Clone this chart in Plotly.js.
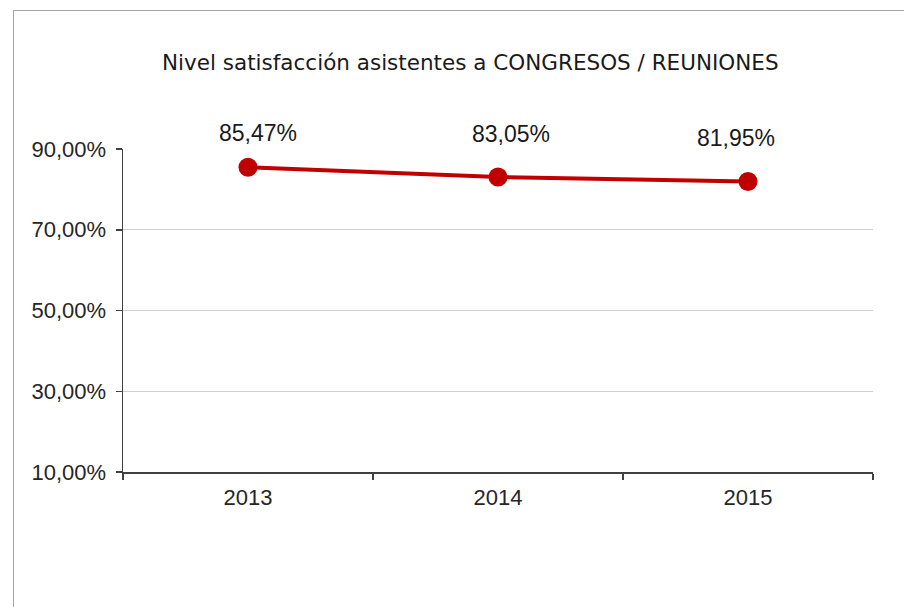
<!DOCTYPE html>
<html>
<head>
<meta charset="utf-8">
<script src="https://cdn.plot.ly/plotly-3.0.1.min.js"></script>
<style>
  html, body { margin: 0; padding: 0; background: #ffffff; overflow: hidden; }
  #frame { position: absolute; left: 13px; top: 10px; width: 1000px; height: 1000px;
           border-left: 1px solid #a6a6a6; border-top: 1px solid #a6a6a6; }
  #chart { position: absolute; left: 0; top: 0; width: 904px; height: 607px; }
</style>
</head>
<body>
<div id="frame"></div>
<div id="chart"></div>
<script>
const years = ['2013', '2014', '2015'];
const satisfaction = [85.47, 83.05, 81.95];
const yTicks = [10, 30, 50, 70, 90];
const chartTitle = 'Nivel satisfacción asistentes a CONGRESOS / REUNIONES';

// label placement offsets (style, px)
const labelShiftX = [10, 13, -12];
const labelShiftY = [34, 43, 44];

function fmt(v) { return v.toFixed(2).replace('.', ',') + '%'; }

const trace = {
  x: years,
  y: satisfaction,
  type: 'scatter',
  mode: 'lines+markers',
  line: { color: '#C00000', width: 4 },
  marker: { color: '#C00000', size: 19 },
  hoverinfo: 'skip',
  showlegend: false
};

const annotations = years.map((yr, i) => ({
  x: i, y: satisfaction[i], xref: 'x', yref: 'y',
  text: fmt(satisfaction[i]), showarrow: false,
  xanchor: 'center', yanchor: 'middle',
  xshift: labelShiftX[i], yshift: labelShiftY[i],
  font: { family: 'Liberation Sans, Arial, sans-serif', size: 23, color: '#1a1a1a' }
}));
annotations.push({
  xref: 'paper', yref: 'paper', x: 0.463, y: 1, yshift: 87,
  xanchor: 'center', yanchor: 'middle', showarrow: false,
  text: chartTitle,
  font: { family: 'DejaVu Sans, Tahoma, sans-serif', size: 21.5, color: '#1a1a1a' }
});

const layout = {
  width: 904, height: 607,
  margin: { l: 123, r: 31, t: 149, b: 135, pad: 0 },
  paper_bgcolor: 'rgba(0,0,0,0)',
  plot_bgcolor: 'rgba(0,0,0,0)',
  separators: ',.',
  xaxis: {
    type: 'category',
    range: [-0.5, 2.5],
    tickson: 'boundaries',
    ticks: 'outside', ticklen: 6, tickwidth: 1.5, tickcolor: '#404040',
    ticklabelstandoff: 5,
    showline: true, linecolor: '#404040', linewidth: 1.5,
    showgrid: false, zeroline: false,
    tickfont: { family: 'Liberation Sans, Arial, sans-serif', size: 22, color: '#262626' },
    fixedrange: true
  },
  yaxis: {
    range: [10, 90],
    tickvals: yTicks,
    ticktext: yTicks.map(v => v.toFixed(2).replace('.', ',') + '%'),
    ticks: 'outside', ticklen: 6, tickwidth: 1.5, tickcolor: '#404040',
    ticklabelstandoff: 5,
    showline: true, linecolor: '#404040', linewidth: 1.5,
    showgrid: true, gridcolor: '#d0d0d0', gridwidth: 1.3,
    zeroline: false,
    tickfont: { family: 'Liberation Sans, Arial, sans-serif', size: 22, color: '#262626' },
    fixedrange: true
  },
  annotations: annotations
};

Plotly.newPlot('chart', [trace], layout, { displayModeBar: false, staticPlot: true });
</script>
</body>
</html>
